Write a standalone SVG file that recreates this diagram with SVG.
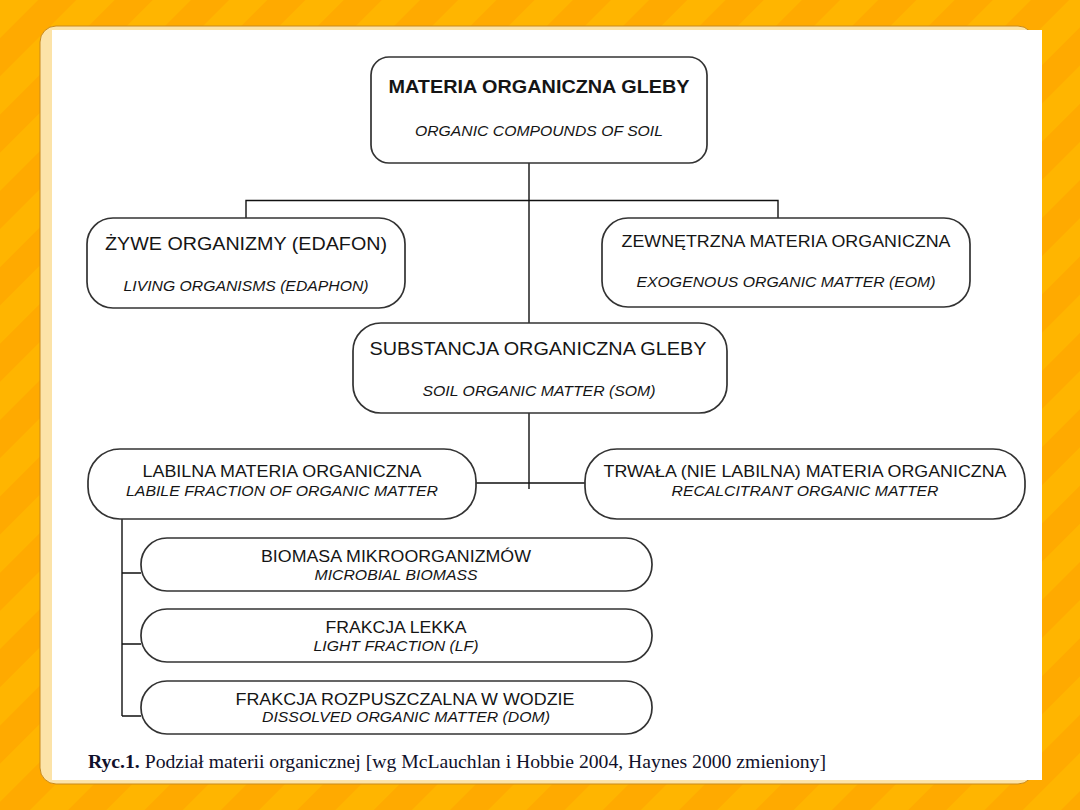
<svg xmlns="http://www.w3.org/2000/svg" width="1080" height="810" viewBox="0 0 1080 810">
<defs>
<pattern id="stripes" patternUnits="userSpaceOnUse" width="54" height="54" patternTransform="rotate(45)">
<rect x="0" y="0" width="54" height="54" fill="#FFAA00"/>
<rect x="0" y="0" width="27" height="54" fill="#FFB500"/>
</pattern>
<style>
.box{fill:#fff;stroke:#333;stroke-width:1.7}
.ln{fill:none;stroke:#111;stroke-width:1.4}
.t{font-family:"Liberation Sans",Arial,sans-serif;fill:#151515;text-anchor:middle}
.i{font-family:"Liberation Sans",Arial,sans-serif;font-style:italic;fill:#151515;text-anchor:middle}
</style>
</defs>
<rect x="0" y="0" width="1080" height="810" fill="url(#stripes)"/>
<rect x="40" y="26" width="994" height="758" rx="16" fill="#FCE3A8" stroke="#C98A1C" stroke-width="1"/>
<rect x="52" y="30" width="990" height="750" fill="#fff"/>

<g id="connectors">
<path class="ln" d="M529,163 V325 M246,218 V200.5 H778 V218"/>
<path class="ln" d="M529,413 V489 M476,483 H585"/>
<path class="ln" d="M122,519 V716 M122,573 H141 M122,644 H141 M122,716 H141"/>
</g>

<g id="n-top">
<rect class="box" x="371" y="57" width="336" height="106" rx="18"/>
<text class="t" x="539" y="93" font-size="18.5" font-weight="bold" textLength="301" lengthAdjust="spacingAndGlyphs">MATERIA ORGANICZNA GLEBY</text>
<text class="i" x="539" y="136" font-size="14" textLength="248" lengthAdjust="spacingAndGlyphs">ORGANIC COMPOUNDS OF SOIL</text>
</g>

<g id="n-zywe">
<rect class="box" x="87" y="218" width="318" height="90" rx="26"/>
<text class="t" x="246" y="250" font-size="18" textLength="282" lengthAdjust="spacingAndGlyphs">ŻYWE ORGANIZMY (EDAFON)</text>
<text class="i" x="246" y="291" font-size="14" textLength="245" lengthAdjust="spacingAndGlyphs">LIVING ORGANISMS (EDAPHON)</text>
</g>

<g id="n-eom">
<rect class="box" x="602" y="218" width="368" height="89" rx="26"/>
<text class="t" x="786" y="247" font-size="17" textLength="329" lengthAdjust="spacingAndGlyphs">ZEWNĘTRZNA MATERIA ORGANICZNA</text>
<text class="i" x="786" y="287" font-size="14" textLength="299" lengthAdjust="spacingAndGlyphs">EXOGENOUS ORGANIC MATTER (EOM)</text>
</g>

<g id="n-som">
<rect class="box" x="353" y="323" width="374" height="90" rx="28"/>
<text class="t" x="538" y="355" font-size="18" textLength="337" lengthAdjust="spacingAndGlyphs">SUBSTANCJA ORGANICZNA GLEBY</text>
<text class="i" x="539" y="396" font-size="14" textLength="233" lengthAdjust="spacingAndGlyphs">SOIL ORGANIC MATTER (SOM)</text>
</g>

<g id="n-labilna">
<rect class="box" x="88" y="449" width="388" height="70" rx="32"/>
<text class="t" x="282" y="477" font-size="16" textLength="279" lengthAdjust="spacingAndGlyphs">LABILNA MATERIA ORGANICZNA</text>
<text class="i" x="282" y="496" font-size="14" textLength="312" lengthAdjust="spacingAndGlyphs">LABILE FRACTION OF ORGANIC MATTER</text>
</g>

<g id="n-trwala">
<rect class="box" x="585" y="449" width="440" height="70" rx="32"/>
<text class="t" x="805" y="477" font-size="16" textLength="403" lengthAdjust="spacingAndGlyphs">TRWAŁA (NIE LABILNA) MATERIA ORGANICZNA</text>
<text class="i" x="805" y="496" font-size="14" textLength="267" lengthAdjust="spacingAndGlyphs">RECALCITRANT ORGANIC MATTER</text>
</g>

<g id="n-biomasa">
<rect class="box" x="141" y="538" width="511" height="53" rx="26"/>
<text class="t" x="396" y="562" font-size="16" textLength="270" lengthAdjust="spacingAndGlyphs">BIOMASA MIKROORGANIZMÓW</text>
<text class="i" x="396" y="580" font-size="14" textLength="163" lengthAdjust="spacingAndGlyphs">MICROBIAL BIOMASS</text>
</g>

<g id="n-lekka">
<rect class="box" x="141" y="609" width="511" height="53" rx="26"/>
<text class="t" x="396" y="633" font-size="16" textLength="141" lengthAdjust="spacingAndGlyphs">FRAKCJA LEKKA</text>
<text class="i" x="396" y="651" font-size="14" textLength="165" lengthAdjust="spacingAndGlyphs">LIGHT FRACTION (LF)</text>
</g>

<g id="n-dom">
<rect class="box" x="141" y="681" width="511" height="53" rx="26"/>
<text class="t" x="405" y="705" font-size="16" textLength="339" lengthAdjust="spacingAndGlyphs">FRAKCJA ROZPUSZCZALNA W WODZIE</text>
<text class="i" x="406" y="722" font-size="14" textLength="288" lengthAdjust="spacingAndGlyphs">DISSOLVED ORGANIC MATTER (DOM)</text>
</g>

<text x="88" y="768" font-family="'Liberation Serif','Times New Roman',serif" font-size="18" fill="#10102a" textLength="738" lengthAdjust="spacingAndGlyphs"><tspan font-weight="bold">Ryc.1.</tspan> Podział materii organicznej [wg McLauchlan i Hobbie 2004, Haynes 2000 zmieniony]</text>
</svg>
